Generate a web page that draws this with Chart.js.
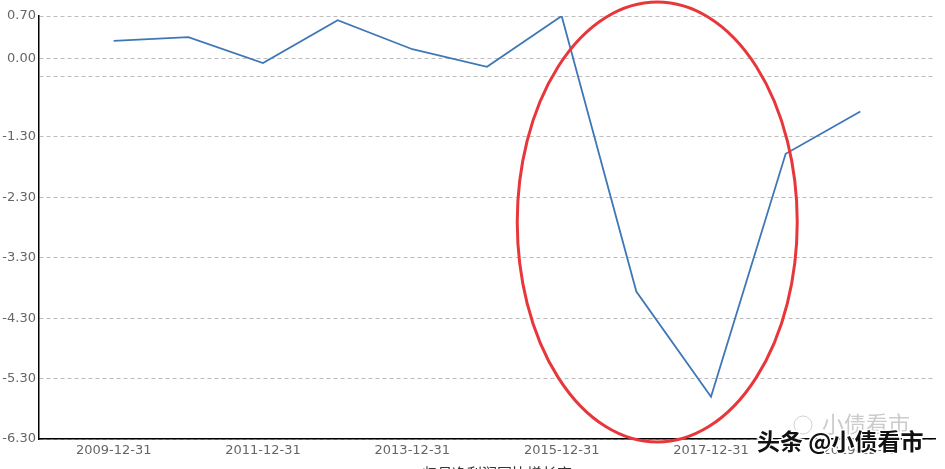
<!DOCTYPE html>
<html lang="zh">
<head>
  <meta charset="UTF-8">
  <title>同比增长率</title>
  <script src="https://cdn.jsdelivr.net/npm/chart.js"></script>
  <style>
    html, body {
      margin: 0;
      padding: 0;
      background: #fff;
    }
    #wrap {
      width: 945px;
      height: 469px;
      position: relative;
    }
  </style>
</head>
<body>
  <div id="wrap"><canvas id="lineChart"></canvas></div>

  <script>
    // categories: the axis runs one year past each end of the data
    const dates = ['2008-12-31', '2009-12-31', '2010-12-31', '2011-12-31', '2012-12-31', '2013-12-31',
                   '2014-12-31', '2015-12-31', '2016-12-31', '2017-12-31', '2018-12-31', '2019-12-31', '2020-12-31'];
    const values = [null, 0.29, 0.35, -0.08, 0.63, 0.15, -0.14, 0.70, -3.86, -5.60, -1.58, -0.88, null];
    const yTicks = [0.70, 0.00, -0.30, -1.30, -2.30, -3.30, -4.30, -5.30, -6.30];
    const hiddenTicks = [-0.30];

    // highlight ellipse, in axis units (category index / value)
    const ringCenter = [8.28, -2.71];
    const ringRadius = [1.875, 3.64];

    const axisTitle = '归母净利润同比增长率';

    const ringPlugin = {
      id: 'ring',
      afterDatasetsDraw(chart) {
        const { ctx, scales: { x, y } } = chart;
        const cx = x.getPixelForValue(ringCenter[0]);
        const cy = y.getPixelForValue(ringCenter[1]);
        const rx = x.getPixelForValue(ringCenter[0] + ringRadius[0]) - cx;
        const ry = cy - y.getPixelForValue(ringCenter[1] + ringRadius[1]);
        ctx.save();
        ctx.beginPath();
        ctx.ellipse(cx, cy, rx, ry, 0, 0, Math.PI * 2);
        ctx.strokeStyle = '#e8373b';
        ctx.lineWidth = 3;
        ctx.stroke();
        ctx.restore();
      },
      afterDraw(chart) {
        const { ctx } = chart;
        ctx.save();
        // cut-off axis title at the very bottom
        ctx.font = '15px "Noto Sans CJK SC"';
        ctx.fillStyle = '#333';
        ctx.textAlign = 'center';
        ctx.textBaseline = 'top';
        ctx.fillText(axisTitle, 497, 466);

        // watermark
        ctx.font = '22px "Noto Sans CJK SC"';
        ctx.fillStyle = 'rgba(160,160,160,0.55)';
        ctx.textAlign = 'left';
        ctx.textBaseline = 'middle';
        ctx.fillText('小债看市', 822, 424);
        ctx.beginPath();
        ctx.arc(803, 425, 9, 0, Math.PI * 2);
        ctx.strokeStyle = 'rgba(180,180,180,0.6)';
        ctx.lineWidth = 1;
        ctx.stroke();

        ctx.font = 'bold 23px "Noto Sans CJK SC"';
        ctx.lineWidth = 3;
        ctx.strokeStyle = '#fff';
        ctx.strokeText('头条 @小债看市', 757, 441);
        ctx.fillStyle = '#111';
        ctx.fillText('头条 @小债看市', 757, 441);
        ctx.restore();
      }
    };

    new Chart(document.getElementById('lineChart'), {
      type: 'line',
      data: {
        labels: dates,
        datasets: [{
          data: values,
          borderColor: '#3f77b6',
          borderWidth: 1.8,
          pointRadius: 0,
          tension: 0,
          fill: false
        }]
      },
      options: {
        responsive: true,
        maintainAspectRatio: false,
        animation: false,
        layout: { padding: { top: 16, right: 10, left: 0, bottom: 0 } },
        plugins: {
          legend: { display: false },
          tooltip: { enabled: false }
        },
        scales: {
          x: {
            offset: false,
            afterFit(scale) { scale.height = 30; },
            grid: { display: false, drawTicks: false },
            border: { display: true, color: '#000', width: 1.5 },
            ticks: {
              autoSkip: false,
              maxRotation: 0,
              padding: 4,
              color: '#666',
              font: { family: 'DejaVu Sans', size: 13 },
              callback(val, i) { return i % 2 === 1 ? dates[i] : ''; }
            }
          },
          y: {
            min: -6.3,
            max: 0.7,
            afterFit(scale) { scale.width = 39; },
            afterBuildTicks(scale) {
              scale.ticks = yTicks.map(v => ({ value: v }));
            },
            grid: {
              color: '#bdbdbd',
              lineWidth: 1,
              drawTicks: false
            },
            border: { display: true, color: '#000', width: 1.5, dash: [4, 3] },
            ticks: {
              padding: 3,
              color: '#666',
              font: { family: 'DejaVu Sans', size: 13 },
              callback(val) {
                return hiddenTicks.includes(val) ? '' : val.toFixed(2);
              }
            }
          }
        }
      },
      plugins: [ringPlugin]
    });
  </script>
</body>
</html>
